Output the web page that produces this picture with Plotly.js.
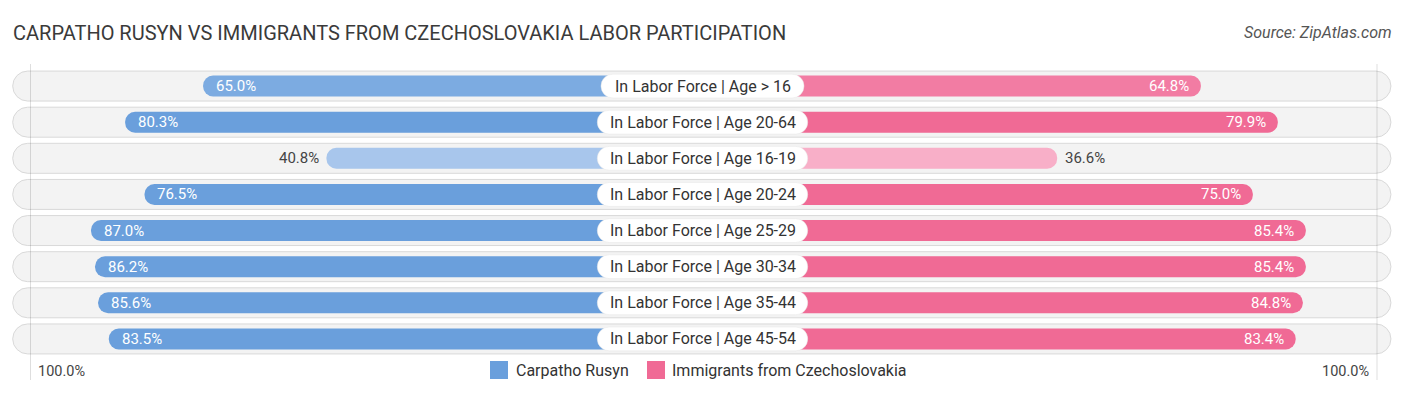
<!DOCTYPE html>
<html>
<head>
<meta charset="utf-8">
<script src="https://cdn.plot.ly/plotly-3.0.1.min.js"></script>
<style>html,body{margin:0;padding:0;background:#fff;}#chart{width:1406px;height:395px;}</style>
</head>
<body>
<div id="chart"></div>
<script>
// ---- data ----
const categories = [
  "In Labor Force | Age > 16",
  "In Labor Force | Age 20-64",
  "In Labor Force | Age 16-19",
  "In Labor Force | Age 20-24",
  "In Labor Force | Age 25-29",
  "In Labor Force | Age 30-34",
  "In Labor Force | Age 35-44",
  "In Labor Force | Age 45-54"
];
const carpathoRusyn = [65.0, 80.3, 40.8, 76.5, 87.0, 86.2, 85.6, 83.5];
const immigrantsCzech = [64.8, 79.9, 36.6, 75.0, 85.4, 85.4, 84.8, 83.4];
const seriesNames = ["Carpatho Rusyn", "Immigrants from Czechoslovakia"];
const axisEndLabel = "100.0%";

// ---- layout constants ----
const W = 1406, H = 395;
const ML = 12, MR = 13, MT = 68, MB = 38;
const PX_PER_UNIT = 5.096;
const PLOT_W = W - ML - MR, PLOT_H = H - MT - MB;
const R = PLOT_W / 2 / PX_PER_UNIT;
const OFF = 33;           // gap (units) from centre to the zero of each side
const FONT = "Roboto, 'Open Sans', sans-serif";

function mix(c1, c2, t) {
  const a = c1.match(/\w\w/g).map(h => parseInt(h, 16));
  const b = c2.match(/\w\w/g).map(h => parseInt(h, 16));
  return "rgb(" + a.map((v, i) => Math.round(v + (b[i] - v) * t)).join(",") + ")";
}
function shade(v, light, dark) {
  const t = Math.max(0, Math.min(1, (v - 35) / 40));
  return mix(light, dark, t);
}
const blueCols = carpathoRusyn.map(v => shade(v, "b2cdef", "6a9fdc"));
const pinkCols = immigrantsCzech.map(v => shade(v, "f8b2ca", "f06a95"));

const idx = categories.map((_, i) => i);
const n = categories.length;
const fmt = v => v.toFixed(1) + "%";

const traces = [];
// background pills
traces.push({
  type: "bar", orientation: "h", y: idx, x: idx.map(() => 2 * R * 0.998), base: idx.map(() => -R * 0.999),
  width: 0.83, marker: {color: "#f3f3f3", line: {color: "#d9d9d9", width: 1}, cornerradius: "50%"},
  hoverinfo: "skip", showlegend: false
});
// left series (from centre, inner end hidden under the label)
traces.push({
  type: "bar", orientation: "h", y: idx, x: carpathoRusyn.map(v => -(OFF + v)), base: 0,
  width: 0.58, marker: {color: blueCols, cornerradius: "50%"}, name: seriesNames[0],
  hoverinfo: "skip", showlegend: false
});
// right series
traces.push({
  type: "bar", orientation: "h", y: idx, x: immigrantsCzech.map(v => OFF + v), base: 0,
  width: 0.58, marker: {color: pinkCols, cornerradius: "50%"}, name: seriesNames[1],
  hoverinfo: "skip", showlegend: false
});
// label pills (width from text length)
const halfW = categories.map(c => (7.4 * c.length + 18) / 2 / PX_PER_UNIT);
traces.push({
  type: "bar", orientation: "h", y: idx, x: halfW.map(h => 2 * h), base: halfW.map(h => -h),
  width: 0.66, marker: {color: "#ffffff", line: {color: "#e6e6e6", width: 0.5}, cornerradius: "50%"},
  hoverinfo: "skip", showlegend: false
});

const annotations = [];
categories.forEach((c, i) => {
  annotations.push({x: 0, y: i, text: c, showarrow: false, xanchor: "center", yanchor: "middle",
    font: {family: FONT, size: 16, color: "#333"}});
  const lv = carpathoRusyn[i];
  const inL = lv >= 50;
  annotations.push({x: -(OFF + lv), y: i, text: fmt(lv), showarrow: false,
    xanchor: inL ? "left" : "right", xshift: inL ? 11 : -5, yanchor: "middle",
    font: {family: FONT, size: 15, color: inL ? "#fff" : "#444"}});
  const rv = immigrantsCzech[i];
  const inR = rv >= 50;
  annotations.push({x: OFF + rv, y: i, text: fmt(rv), showarrow: false,
    xanchor: inR ? "right" : "left", xshift: inR ? -10 : 6, yanchor: "middle",
    font: {family: FONT, size: 15, color: inR ? "#fff" : "#444"}});
});

const px2x = px => (px - ML) / PLOT_W;
const py2y = py => (H - MB - py) / PLOT_H;

annotations.push({xref: "paper", yref: "paper", x: px2x(61.5), y: py2y(371), text: axisEndLabel,
  showarrow: false, xanchor: "center", yanchor: "middle", font: {family: FONT, size: 14.5, color: "#444"}});
annotations.push({xref: "paper", yref: "paper", x: px2x(1345.5), y: py2y(371), text: axisEndLabel,
  showarrow: false, xanchor: "center", yanchor: "middle", font: {family: FONT, size: 14.5, color: "#444"}});
// legend
annotations.push({xref: "paper", yref: "paper", x: px2x(514), y: py2y(370), text: seriesNames[0],
  showarrow: false, xanchor: "left", yanchor: "middle", font: {family: FONT, size: 16, color: "#333"}});
annotations.push({xref: "paper", yref: "paper", x: px2x(670), y: py2y(370), text: seriesNames[1],
  showarrow: false, xanchor: "left", yanchor: "middle", font: {family: FONT, size: 16, color: "#333"}});
// source
annotations.push({xref: "paper", yref: "paper", x: px2x(1394), y: py2y(33), text: "<i>Source: ZipAtlas.com</i>",
  showarrow: false, xanchor: "right", yanchor: "middle", font: {family: FONT, size: 16, color: "#555"}});

const shapes = [
  {type: "rect", xref: "paper", yref: "paper", x0: px2x(490), x1: px2x(508), y0: py2y(379), y1: py2y(361),
    fillcolor: "#6a9fdc", line: {width: 0}},
  {type: "rect", xref: "paper", yref: "paper", x0: px2x(647), x1: px2x(665), y0: py2y(379), y1: py2y(361),
    fillcolor: "#f06a95", line: {width: 0}},
  {type: "line", xref: "paper", yref: "paper", x0: px2x(30.5), x1: px2x(30.5), y0: py2y(64), y1: py2y(380),
    line: {color: "rgba(0,0,0,0.13)", width: 1}, layer: "above"},
  {type: "line", xref: "paper", yref: "paper", x0: px2x(1377), x1: px2x(1377), y0: py2y(64), y1: py2y(380),
    line: {color: "rgba(0,0,0,0.13)", width: 1}, layer: "above"}
];

const layout = {
  width: W, height: H,
  margin: {l: ML, r: MR, t: MT, b: MB, pad: 0},
  paper_bgcolor: "#fff", plot_bgcolor: "#fff",
  title: {text: "CARPATHO RUSYN VS IMMIGRANTS FROM CZECHOSLOVAKIA LABOR PARTICIPATION",
    x: 13 / W, xanchor: "left", xref: "container", y: 1 - 33 / H, yanchor: "middle", yref: "container",
    font: {family: FONT, size: 20, color: "#3a3a3a"}},
  barmode: "overlay",
  xaxis: {range: [-R, R], visible: false, fixedrange: true},
  yaxis: {range: [n - 0.5, -0.5], visible: false, fixedrange: true},
  showlegend: false,
  annotations: annotations,
  shapes: shapes
};

Plotly.newPlot("chart", traces, layout, {staticPlot: true, displayModeBar: false});
</script>
</body>
</html>
